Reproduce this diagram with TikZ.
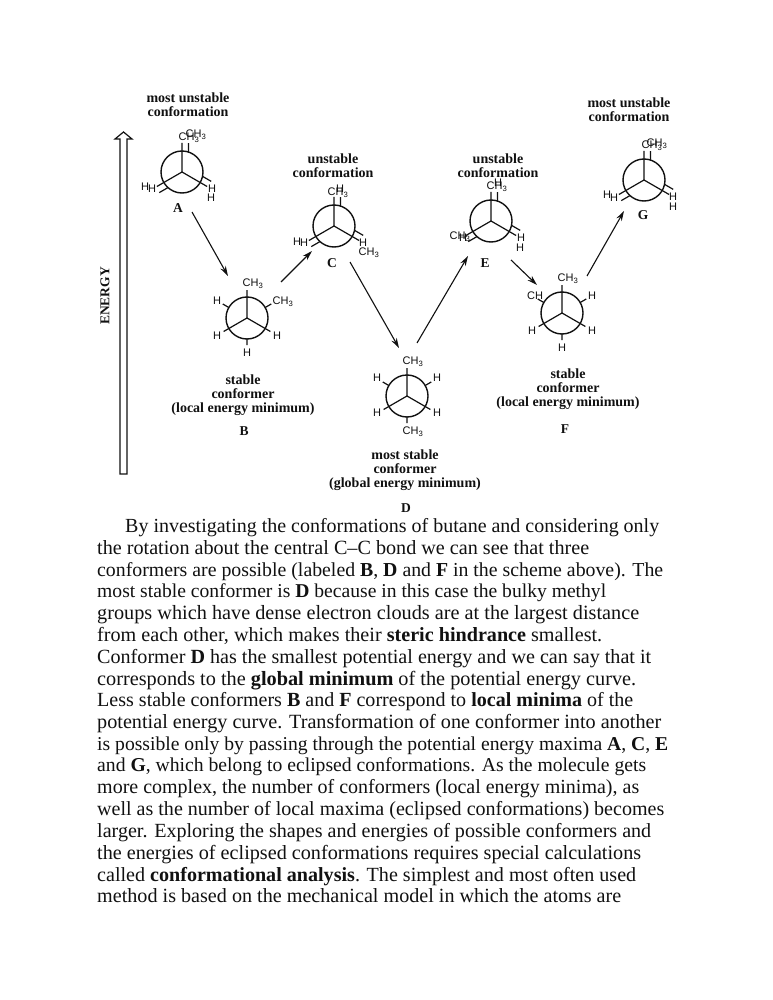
\documentclass[tikz,border=0pt]{standalone}
\usepackage{fontspec}
\usepackage{graphicx}
\setmainfont{Liberation Serif}
\newfontfamily\atomfont{Liberation Sans}
\usetikzlibrary{arrows.meta}
\definecolor{ink}{HTML}{111111}
\tikzset{
  bondline/.style={draw=ink,line width=1.2pt},
  ringline/.style={draw=ink,line width=1.4pt},
  atom/.style={inner sep=0pt,text=ink,font=\atomfont\fontsize{11}{12}\selectfont},
  head/.style={inner sep=0pt,text=ink,align=center,font=\bfseries\fontsize{14}{14}\selectfont},
  letter/.style={inner sep=0pt,text=ink,font=\bfseries\fontsize{13.5}{14}\selectfont},
  stepline/.style={draw=ink,line width=1.1pt,-{Stealth[length=10pt,width=6pt]}},
  bodyline/.style={inner sep=0pt,anchor=base west,text=ink,font=\fontsize{20}{22}\selectfont},
}
\newcommand{\chthree}{CH\textsubscript{3}}
% eclipsed Newman projection
\newcommand{\newmanecl}[3]{%
  \begin{scope}[shift={(#2,#3)}]
    \draw[ringline] (0,0) circle[radius=21pt];
    \draw[bondline] (0,0) -- (-90:29) (0,0) -- (150:29) (0,0) -- (30:29);
    \draw[bondline] (-72:21) -- +(-90:9) (132:21) -- +(150:10) (12:21) -- +(30:10);
  \end{scope}}
% staggered Newman projection
\newcommand{\newmanstag}[3]{%
  \begin{scope}[shift={(#2,#3)}]
    \draw[ringline] (0,0) circle[radius=21pt];
    \draw[bondline] (0,0) -- (-90:28) (0,0) -- (150:27) (0,0) -- (30:27);
    \draw[bondline] (90:21) -- (90:27) (-30:21) -- (-30:28) (-150:21) -- (-150:28);
  \end{scope}}
% one line of body text: name, baseline y, left x, right x, text
\newcommand{\bl}[5]{\pgfmathsetlengthmacro{\blwidth}{(#4-#3)*1pt}%
  \node[bodyline] (#1) at (#3,#2) {\resizebox{\blwidth}{!}{#5}};}
\begin{document}
\begin{tikzpicture}[x=1pt,y=-1pt]
\useasboundingbox[fill=white] (0,0) rectangle (772,1000);
% energy arrow
\draw[bondline] (120,474) -- (120,139) -- (115,139) -- (123.5,132) -- (132,139) -- (127,139) -- (127,474) -- cycle;
\node[letter,rotate=90] (energy) at (105,296) {ENERGY};
% Newman projections
\newmanecl{a}{182}{172}
\newmanecl{c}{334}{226}
\newmanecl{e}{491}{221}
\newmanecl{g}{644}{180}
\newmanstag{b}{247}{318}
\newmanstag{d}{407}{396}
\newmanstag{f}{562}{313}
% A
\node[head] (ha) at (188,105) {most unstable\\conformation};
\node[atom] (a1) at (189,138) {\chthree};
\node[atom] (a2) at (196,135) {\chthree};
\node[atom] (a3) at (145,187) {H};
\node[atom] (a4) at (152,189) {H};
\node[atom] (a5) at (212,189) {H};
\node[atom] (a6) at (211,198) {H};
\node[letter] (la) at (178,208) {A};
% C
\node[head] (hc) at (333,166) {unstable\\conformation};
\node[atom] (c1) at (338,193) {\chthree};
\node[atom] (c2) at (340,189) {H};
\node[atom] (c3) at (297,242) {H};
\node[atom] (c4) at (304,243) {H};
\node[atom] (c5) at (363,243) {H};
\node[atom] (c6) at (369,253) {\chthree};
\node[letter] (lc) at (332,263) {C};
% E
\node[head] (he) at (498,166) {unstable\\conformation};
\node[atom] (e1) at (497,187) {\chthree};
\node[atom] (e2) at (498,183) {H};
\node[atom] (e3) at (460,237) {\chthree};
\node[atom] (e4) at (463,238) {H};
\node[atom] (e5) at (521,238) {H};
\node[atom] (e6) at (520,248) {H};
\node[letter] (le) at (485,263) {E};
% G
\node[head] (hg) at (629,110) {most unstable\\conformation};
\node[atom] (g1) at (652,146) {\chthree};
\node[atom] (g2) at (657,144) {\chthree};
\node[atom] (g3) at (607,195) {H};
\node[atom] (g4) at (614,198) {H};
\node[atom] (g5) at (673,197) {H};
\node[atom] (g6) at (673,207) {H};
\node[letter] (lg) at (643,215) {G};
% B
\node[head] (hb) at (243,395.5) {stable\\conformer\\(local energy minimum)};
\node[atom] (b1) at (253,284) {\chthree};
\node[atom] (b2) at (283,302) {\chthree};
\node[atom] (b3) at (217,301) {H};
\node[atom] (b4) at (217,336) {H};
\node[atom] (b5) at (277,336) {H};
\node[atom] (b6) at (247,353) {H};
\node[letter] (lb) at (244,431) {B};
% D
\node[head] (hd) at (405,470.5) {most stable\\conformer\\(global energy minimum)};
\node[atom] (d1) at (413,362) {\chthree};
\node[atom] (d2) at (377,378) {H};
\node[atom] (d3) at (437,378) {H};
\node[atom] (d4) at (377,413) {H};
\node[atom] (d5) at (437,413) {H};
\node[atom] (d6) at (413,432) {\chthree};
\node[letter] (ld) at (406,508) {D};
% F
\node[head] (hf) at (568,389.5) {stable\\conformer\\(local energy minimum)};
\node[atom] (f1) at (568,279) {\chthree};
\node[atom] (f2) at (535,296) {CH};
\node[atom] (f3) at (592,296) {H};
\node[atom] (f4) at (532,331) {H};
\node[atom] (f5) at (592,331) {H};
\node[atom] (f6) at (562,348) {H};
\node[letter] (lf) at (565,429) {F};
% connectors
\coordinate (s1) at (192,212); \coordinate (t1) at (228,276);
\coordinate (s2) at (281,282); \coordinate (t2) at (312,251);
\coordinate (s3) at (350,262); \coordinate (t3) at (399,348);
\coordinate (s4) at (417,343); \coordinate (t4) at (468,256);
\coordinate (s5) at (511,260); \coordinate (t5) at (537,285);
\coordinate (s6) at (587,276); \coordinate (t6) at (624,211);
\draw[stepline] (s1) -- (t1);
\draw[stepline] (s2) -- (t2);
\draw[stepline] (s3) -- (t3);
\draw[stepline] (s4) -- (t4);
\draw[stepline] (s5) -- (t5);
\draw[stepline] (s6) -- (t6);
% body text
\bl{l1}{532}{125}{659}{By investigating the conformations of butane and considering only}
\bl{l2}{554}{97}{589}{the rotation about the central C–C bond we can see that three}
\bl{l3}{576}{97}{663}{conformers are possible (labeled \textbf{B}, \textbf{D} and \textbf{F} in the scheme above). The}
\bl{l4}{597}{97}{606}{most stable conformer is \textbf{D} because in this case the bulky methyl}
\bl{l5}{619}{97}{639}{groups which have dense electron clouds are at the largest distance}
\bl{l6}{641}{97}{602}{from each other, which makes their \textbf{steric hindrance} smallest.}
\bl{l7}{663}{97}{651}{Conformer \textbf{D} has the smallest potential energy and we can say that it}
\bl{l8}{685}{97}{636}{corresponds to the \textbf{global minimum} of the potential energy curve.}
\bl{l9}{706}{97}{633}{Less stable conformers \textbf{B} and \textbf{F} correspond to \textbf{local minima} of the}
\bl{l10}{728}{97}{661}{potential energy curve. Transformation of one conformer into another}
\bl{l11}{750}{97}{668}{is possible only by passing through the potential energy maxima \textbf{A}, \textbf{C}, \textbf{E}}
\bl{l12}{771}{97}{646}{and \textbf{G}, which belong to eclipsed conformations. As the molecule gets}
\bl{l13}{793}{97}{639}{more complex, the number of conformers (local energy minima), as}
\bl{l14}{815}{97}{664}{well as the number of local maxima (eclipsed conformations) becomes}
\bl{l15}{837}{97}{651}{larger. Exploring the shapes and energies of possible conformers and}
\bl{l16}{859}{97}{641}{the energies of eclipsed conformations requires special calculations}
\bl{l17}{881}{97}{636}{called \textbf{conformational analysis}. The simplest and most often used}
\bl{l18}{902}{97}{621}{method is based on the mechanical model in which the atoms are}
\end{tikzpicture}
\end{document}
